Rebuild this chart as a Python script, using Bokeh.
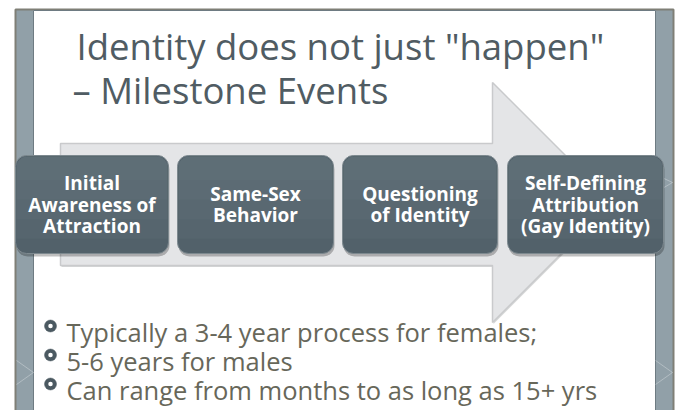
from bokeh.plotting import figure
from bokeh.models import Range1d
from bokeh.core.properties import value
from bokeh.embed import file_html
from bokeh.resources import INLINE

# ---- content ----
title_lines = ['Identity does not just "happen"', '\u2013 Milestone Events']
steps = [
    ["Initial", "Awareness of", "Attraction"],
    ["Same-Sex", "Behavior"],
    ["Questioning", "of Identity"],
    ["Self-Defining", "Attribution", "(Gay Identity)"],
]
bullets = [
    "Typically a 3-4 year process for females;",
    "5-6 years for males",
    "Can range from months to as long as 15+ yrs",
]

# ---- layout (page pixel coordinates) ----
W, H = 680, 410
box_left = [15, 177, 342, 507]
box_right = [168, 333, 497, 663]
box_top, box_bottom = 155, 253
box_mid = (box_top + box_bottom) / 2
line_gap = 21.5

title_x = [76, 72]
title_base = [45, 89]
bullet_x, bullet_dot_x = 66, 50
bullet_base = [331, 360, 389]

FONT = "Open Sans"

p = figure(width=W, height=H, x_range=Range1d(0, W), y_range=Range1d(H, 0),
           output_backend="svg", toolbar_location=None, min_border=0)
p.axis.visible = False
p.grid.visible = False
p.outline_line_color = None
p.background_fill_color = "white"
p.border_fill_color = "white"

# slide frame
p.quad(left=15, right=673, top=9, bottom=430, fill_color="#91a0a8",
       line_color="#7f7f76", line_width=2)
p.quad(left=33, right=655, top=10, bottom=430, fill_color="white",
       line_color="#6e7b82", line_width=1)
# faint decoration lines in side bands
for x0, x1 in [(16, 33), (655, 672)]:
    p.multi_line(xs=[[x0, x1], [x0, x1], [x0, x1], [x0, x1]],
                 ys=[[360, 372], [384, 372], [192, 182], [174, 182]],
                 line_color="white", line_alpha=0.3, line_width=1)

# bullets (ring markers) and text, under the arrow
dot_y = [b - 5.5 for b in bullet_base]
p.scatter(x=[bullet_dot_x] * len(bullets), y=dot_y, marker="circle", size=12,
          fill_color="#4b5961", line_color="#4b5961", line_width=0.5)
p.scatter(x=[bullet_dot_x] * len(bullets), y=dot_y, marker="circle", size=4.5,
          fill_color="white", line_color=None)
p.text(x=[bullet_x] * len(bullets), y=bullet_base, text=bullets,
       text_font=value(FONT), text_font_size="25.5px", text_color="#67675a",
       text_baseline="alphabetic", text_align="left")

# arrow
ax = [60, 492, 492, 612, 492, 492, 60]
ay = [143, 143, 82, 202, 322, 265, 265]
p.patch(x=[a + 1 for a in ax], y=[a + 1.5 for a in ay], fill_color="#b9babc",
        fill_alpha=0.6, line_color=None)
p.patch(x=ax, y=ay, fill_color="#e4e5e7", line_color="#c9cacc", line_width=1.5)

# title
p.text(x=title_x, y=title_base, text=title_lines, text_font=value(FONT),
       text_font_size="36.5px", text_color="#505c63", text_baseline="alphabetic",
       text_align="left")

# step boxes (shadow, body, soft upper sheen)
p.quad(left=[l + 1 for l in box_left], right=[r + 1 for r in box_right],
       top=box_top + 3, bottom=box_bottom + 3, fill_color="black", fill_alpha=0.25,
       line_color=None, border_radius=11)
p.quad(left=box_left, right=box_right, top=box_top, bottom=box_bottom,
       fill_color="#52616a", line_color="#7d898f", line_width=1, border_radius=11)
for frac in [0.25, 0.45, 0.65, 0.85]:
    p.quad(left=[l + 1 for l in box_left], right=[r - 1 for r in box_right],
           top=box_top + 1, bottom=box_top + frac * (box_bottom - box_top),
           fill_color="#75838b", fill_alpha=0.12, line_color=None,
           border_radius=[10, 10, 0, 0])

tx, ty, tt = [], [], []
for l, r, lines in zip(box_left, box_right, steps):
    cx = (l + r) / 2
    n = len(lines)
    for i, s in enumerate(lines):
        tx.append(cx)
        ty.append(box_mid + (i - (n - 1) / 2) * line_gap)
        tt.append(s)
p.text(x=tx, y=ty, text=tt, text_font=value(FONT), text_font_style="bold",
       text_font_size="19px", text_color="white", text_align="center",
       text_baseline="middle")

open("out.html", "w").write(file_html(p, INLINE))
